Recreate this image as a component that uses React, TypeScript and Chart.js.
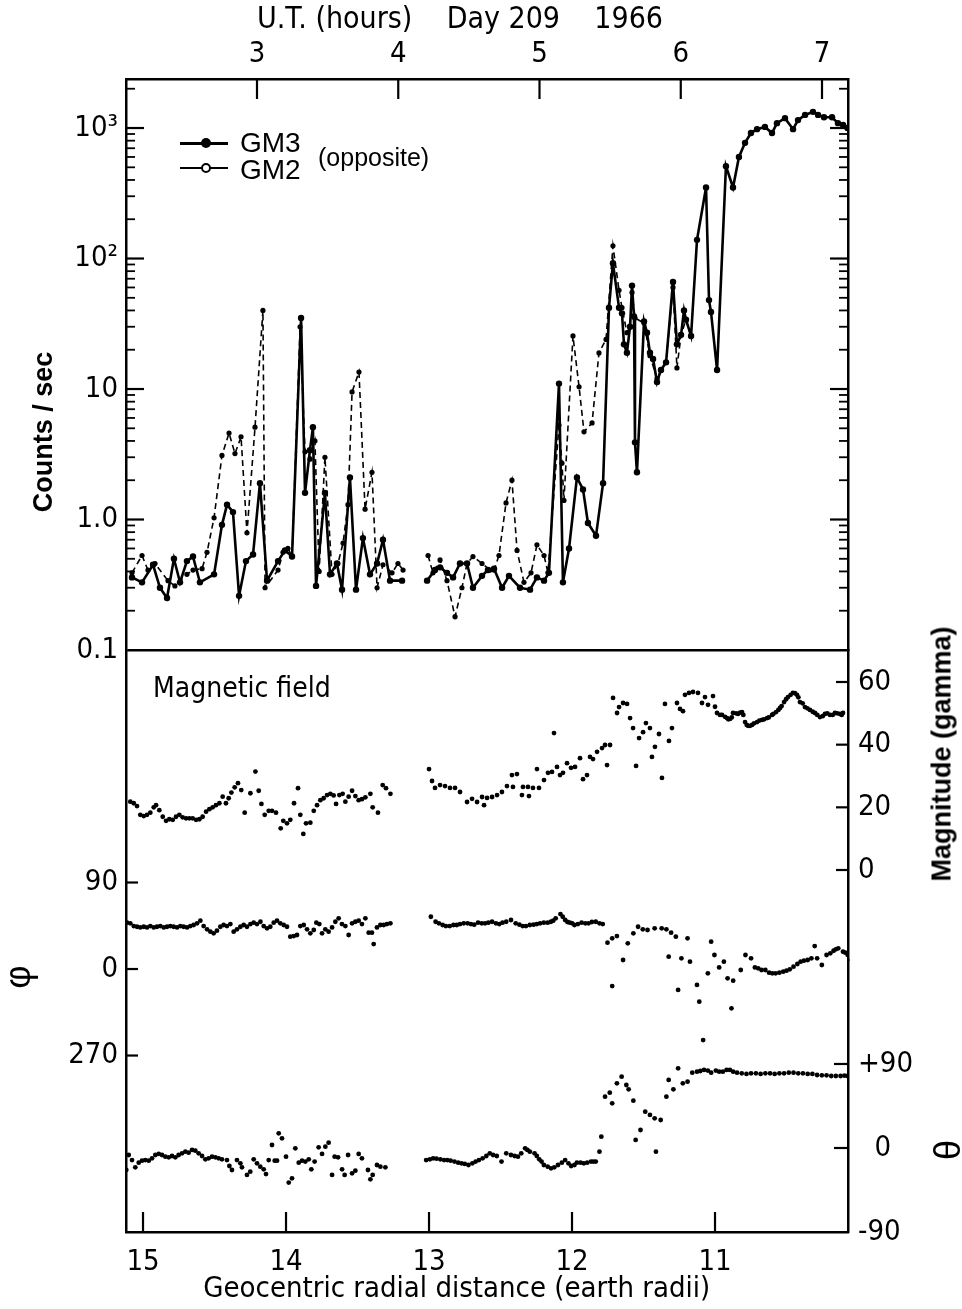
import React, { useEffect, useRef } from 'react';
import { Chart, registerables } from 'chart.js';

Chart.register(...registerables);

const NARROW = "'Liberation Sans Narrow', 'Arial Narrow', 'DejaVu Sans Condensed', 'Roboto Condensed', 'Liberation Sans', sans-serif";
const SANS = "'Liberation Sans', Arial, Helvetica, sans-serif";

// ---- axis ticks ----
const utTicks = [3, 4, 5, 6, 7];
const radiusTicks = [15, 14, 13, 12, 11];
const countTicks = [0.1, 1, 10, 100, 1000];
const countTickLabels = ['0.1', '1.0', '10', '10²', '10³'];
const minorMultipliers = [2, 3, 4, 5, 6, 7, 8, 9];
const phiTicks = [90, 0, -90];
const phiTickLabels = ['90', '0', '270'];
const magTicks = [60, 40, 20, 0];
const thetaTicks = [90, 0, -90];
const thetaTickLabels = ['+90', '\u20070', '-90'];

// ---- axis ranges ----
const utRange = [2.0726, 7.184];
const radiusRange = [10.07, 15.119];
const countRange = [0.1, 2375];
const phiRange = [-273.6, 331.9];
const magRange = [-28.72, 70.21];
const thetaRange = [-90, 201.4];

// ---- counting rates [UT hours, counts/sec] ----
const gm3 = [
  [2.115, 0.36], [2.186, 0.33], [2.264, 0.45], [2.313, 0.30], [2.363, 0.25], [2.412, 0.50], [2.455, 0.33],
  [2.504, 0.48], [2.547, 0.52], [2.596, 0.33], [2.696, 0.38], [2.752, 0.91], [2.788, 1.3], [2.830, 1.14],
  [2.873, 0.26], [2.922, 0.48], [2.972, 0.54], [3.021, 1.9], [3.071, 0.34], [3.149, 0.48], [3.198, 0.58],
  [3.248, 0.52], [3.312, 35], [3.340, 1.6], [3.375, 3.4], [3.396, 5.1], [3.418, 0.31], [3.481, 1.6],
  [3.517, 0.38], [3.566, 0.46], [3.602, 0.29], [3.658, 2.1], [3.701, 0.29], [3.750, 0.72], [3.800, 0.38],
  [3.850, 0.46], [3.892, 0.70], [3.942, 0.34], [4.027, 0.34], [4.12, null],
  [4.204, 0.34], [4.260, 0.41], [4.296, 0.43], [4.345, 0.39], [4.388, 0.36], [4.437, 0.46], [4.487, 0.46],
  [4.529, 0.30], [4.593, 0.37], [4.635, 0.41], [4.678, 0.42], [4.735, 0.30], [4.784, 0.37], [4.862, 0.30],
  [4.933, 0.29], [4.982, 0.36], [5.032, 0.34], [5.067, 0.39], [5.138, 11], [5.166, 0.33], [5.209, 0.60],
  [5.265, 2.1], [5.308, 1.7], [5.343, 0.94], [5.400, 0.75], [5.450, 1.9], [5.492, 42], [5.520, 92],
  [5.563, 42], [5.584, 38], [5.598, 22], [5.619, 19], [5.641, 30], [5.655, 62], [5.669, 36], [5.676, 3.9],
  [5.690, 2.3], [5.740, 33], [5.761, 27], [5.782, 19], [5.804, 17], [5.832, 11.3], [5.860, 14], [5.896, 16],
  [5.945, 66], [5.973, 22], [6.002, 26], [6.023, 40], [6.037, 34], [6.073, 25.5], [6.115, 139], [6.179, 350],
  [6.200, 48], [6.214, 39], [6.257, 14], [6.320, 510], [6.370, 350], [6.412, 600], [6.455, 770], [6.497, 915],
  [6.540, 980], [6.596, 1020], [6.646, 915], [6.681, 1090], [6.738, 1190], [6.795, 980], [6.830, 1150],
  [6.880, 1260], [6.936, 1330], [6.972, 1260], [7.014, 1210], [7.071, 1210], [7.113, 1090], [7.149, 1055],
  [7.180, 1000]
];

const gm2 = [
  [2.115, 0.39], [2.186, 0.53], [2.228, 0.41], [2.278, 0.46], [2.370, 0.34], [2.419, 0.31], [2.504, 0.38],
  [2.547, 0.41], [2.611, 0.42], [2.646, 0.56], [2.696, 1.03], [2.752, 3.1], [2.802, 4.6], [2.844, 3.2],
  [2.887, 4.3], [2.929, 0.79], [2.986, 5.1], [3.042, 40], [3.057, 0.30], [3.149, 0.41], [3.184, 0.56],
  [3.219, 0.60], [3.248, 0.52], [3.305, 30], [3.340, 3.3], [3.375, 2.9], [3.410, 4.0], [3.440, 0.40],
  [3.481, 3.0], [3.531, 0.38], [3.573, 0.46], [3.609, 0.66], [3.644, 1.3], [3.673, 9.5], [3.722, 13.5],
  [3.765, 1.2], [3.814, 2.3], [3.850, 0.30], [3.892, 0.45], [3.956, 0.39], [3.998, 0.46], [4.034, 0.41],
  [4.12, null],
  [4.211, 0.53], [4.246, 0.39], [4.296, 0.49], [4.345, 0.34], [4.402, 0.18], [4.451, 0.30], [4.487, 0.46],
  [4.529, 0.52], [4.593, 0.46], [4.650, 0.41], [4.678, 0.41], [4.713, 0.53], [4.763, 1.34], [4.805, 2.0],
  [4.841, 0.58], [4.890, 0.33], [4.940, 0.39], [4.982, 0.64], [5.032, 0.53], [5.060, 0.39], [5.138, 5.3],
  [5.159, 2.7], [5.173, 1.4], [5.237, 25.5], [5.280, 10.4], [5.315, 4.7], [5.372, 5.5], [5.421, 18.9],
  [5.471, 24], [5.520, 125], [5.563, 57], [5.584, 42], [5.619, 27], [5.641, 30], [5.655, 55], [5.676, 35],
  [5.740, 32], [5.782, 18], [5.832, 12], [5.860, 14], [5.896, 16], [5.945, 60], [5.973, 14.5], [6.002, 26],
  [6.037, 34], [6.073, 25.5]
];

// ---- magnetic field [radial distance, value] ----
const magnitude = [
  [15.089, 21.8], [15.065, 21.3], [15.042, 20.4], [15.019, 17.6], [14.995, 17.2], [14.972, 17.6], [14.949, 18.3],
  [14.925, 20.0], [14.909, 20.7], [14.886, 19.1], [14.862, 17.0], [14.839, 15.7], [14.816, 16.2], [14.792, 16.0],
  [14.769, 17.0], [14.746, 17.6], [14.723, 16.8], [14.699, 16.5], [14.676, 16.5], [14.653, 16.5], [14.629, 16.0],
  [14.606, 16.2], [14.583, 17.0], [14.559, 18.6], [14.536, 19.4], [14.513, 20.0], [14.490, 20.7], [14.466, 21.3],
  [14.443, 23.4], [14.420, 21.3], [14.401, 22.9], [14.382, 24.7], [14.359, 26.4], [14.336, 27.7], [14.313, 25.5],
  [14.289, 18.3], [14.249, 24.5], [14.214, 31.4], [14.191, 25.3], [14.172, 21.1], [14.149, 17.6], [14.121, 18.9],
  [14.098, 18.9], [14.070, 18.3], [14.037, 13.3], [14.019, 15.7], [13.993, 14.9], [13.970, 16.0], [13.944, 21.3],
  [13.916, 26.1], [13.900, 17.6], [13.879, 11.5], [13.860, 14.9], [13.830, 15.1], [13.806, 18.9], [13.783, 20.7],
  [13.760, 22.3], [13.737, 22.9], [13.713, 23.9], [13.690, 24.3], [13.667, 23.8], [13.650, 21.1], [13.627, 23.9],
  [13.604, 24.3], [13.585, 21.8], [13.562, 23.4], [13.538, 25.3], [13.515, 23.6], [13.492, 22.3], [13.469, 22.6],
  [13.445, 23.2], [13.410, 24.3], [13.394, 20.0], [13.357, 18.3], [13.324, 27.1], [13.301, 26.1], [13.270, 24.3],
  [13.000, 32.2], [12.979, 28.4], [12.958, 26.2], [12.923, 27.1], [12.888, 26.8], [12.853, 26.2], [12.818, 26.2],
  [12.783, 24.9], [12.734, 21.7], [12.699, 22.7], [12.664, 21.7], [12.629, 23.3], [12.615, 20.7], [12.594, 23.0],
  [12.559, 23.3], [12.524, 23.9], [12.490, 24.9], [12.455, 26.8], [12.420, 30.3], [12.413, 26.5], [12.385, 30.6],
  [12.350, 23.9], [12.343, 26.5], [12.308, 26.5], [12.301, 23.6], [12.273, 26.2], [12.245, 32.2], [12.231, 26.2],
  [12.196, 28.7], [12.168, 31.0], [12.140, 31.3], [12.126, 43.7], [12.105, 32.9], [12.084, 30.3], [12.063, 31.0],
  [12.035, 34.1], [12.007, 32.6], [11.979, 32.9], [11.944, 35.7], [11.923, 29.0], [11.895, 30.3], [11.874, 36.1],
  [11.853, 35.4], [11.825, 37.7], [11.790, 38.9], [11.769, 39.9], [11.755, 33.5], [11.734, 39.9], [11.713, 54.9],
  [11.685, 50.1], [11.671, 52.0], [11.643, 53.3], [11.615, 53.0], [11.594, 48.5], [11.573, 45.3], [11.552, 33.2],
  [11.531, 42.1], [11.503, 44.0], [11.483, 46.9], [11.455, 45.3], [11.441, 36.1], [11.420, 39.3], [11.392, 43.4],
  [11.371, 29.4], [11.350, 53.0], [11.322, 41.2], [11.301, 45.3], [11.266, 53.3], [11.245, 51.4], [11.224, 50.7],
  [11.210, 55.9], [11.182, 56.5], [11.154, 56.8], [11.119, 56.5], [11.091, 53.3], [11.070, 55.2], [11.049, 52.7],
  [11.014, 55.5], [10.986, 50.1], [10.951, 49.5], [10.916, 48.5], [10.895, 48.2], [10.874, 50.1], [10.839, 49.8],
  [10.811, 50.4], [10.790, 47.2], [10.769, 46.0], [10.741, 46.3], [10.706, 47.2], [10.671, 47.9], [10.636, 48.5],
  [10.601, 49.5], [10.573, 50.4], [10.545, 51.7], [10.517, 53.6], [10.490, 55.2], [10.455, 56.5], [10.427, 55.9],
  [10.406, 53.6], [10.371, 52.0], [10.336, 51.1], [10.301, 50.1], [10.266, 48.8], [10.231, 49.8], [10.196, 49.5],
  [10.161, 50.1], [10.126, 49.8], [10.105, 50.1],
  [11.000, 52.1], [10.965, 49.5], [10.930, 48.9], [10.907, 48.1], [10.883, 48.7], [10.853, 50.0], [10.825, 50.2],
  [10.802, 49.5], [10.778, 46.3], [10.755, 46.0], [10.727, 46.8], [10.690, 47.7], [10.657, 48.1], [10.624, 48.7],
  [10.592, 49.8], [10.557, 51.1], [10.534, 52.3], [10.503, 54.5], [10.471, 55.9], [10.441, 56.4], [10.417, 55.1],
  [10.387, 53.2], [10.354, 51.6], [10.317, 50.5], [10.285, 49.5], [10.247, 49.1], [10.215, 50.0], [10.177, 49.5],
  [10.145, 50.0], [10.114, 49.5]
];

const phi = [
  [15.112, 48.2], [15.089, 47.5], [15.065, 44.7], [15.042, 44.0], [15.019, 43.3], [14.995, 44.0], [14.972, 43.3],
  [14.949, 44.7], [14.925, 43.3], [14.902, 44.0], [14.879, 44.7], [14.855, 43.3], [14.832, 44.0], [14.809, 44.7],
  [14.786, 44.0], [14.762, 43.3], [14.739, 44.7], [14.716, 44.0], [14.692, 43.3], [14.669, 44.7], [14.646, 45.8],
  [14.622, 47.5], [14.599, 50.3], [14.576, 44.7], [14.552, 41.3], [14.529, 38.9], [14.506, 37.1], [14.483, 39.9],
  [14.459, 44.0], [14.436, 45.8], [14.413, 44.7], [14.389, 46.8], [14.366, 38.9], [14.343, 41.3], [14.319, 44.0],
  [14.296, 45.8], [14.273, 44.0], [14.249, 46.8], [14.226, 48.2], [14.203, 46.8], [14.179, 49.2], [14.156, 44.7],
  [14.133, 42.3], [14.110, 44.0], [14.086, 48.2], [14.063, 50.3], [14.040, 47.5], [14.016, 45.8], [13.993, 44.0],
  [13.970, 33.6], [13.946, 34.3], [13.923, 35.4], [13.900, 44.7], [13.876, 45.8], [13.853, 41.3], [13.830, 37.1],
  [13.806, 40.6], [13.788, 48.2], [13.767, 46.8], [13.748, 37.1], [13.725, 41.3], [13.702, 38.9], [13.678, 43.3],
  [13.655, 49.2], [13.632, 52.7], [13.609, 46.8], [13.585, 44.7], [13.562, 35.4], [13.538, 47.5], [13.515, 49.2],
  [13.492, 50.3], [13.469, 46.8], [13.445, 52.7], [13.422, 37.8], [13.399, 37.8], [13.387, 26.0], [13.364, 43.3],
  [13.340, 45.8], [13.317, 45.8], [13.294, 46.8], [13.270, 47.5],
  [12.987, 54.4], [12.954, 49.2], [12.905, 45.8], [12.855, 44.7], [12.806, 45.8], [12.757, 47.5], [12.707, 46.8],
  [12.657, 48.2], [12.608, 47.5], [12.559, 49.2], [12.509, 46.8], [12.460, 49.2], [12.427, 51.0], [12.394, 47.5],
  [12.345, 44.7], [12.295, 45.8], [12.246, 46.8], [12.197, 48.2], [12.147, 49.2], [12.114, 52.7], [12.081, 57.2],
  [12.048, 51.0], [12.015, 48.2], [11.983, 45.8], [11.933, 48.2], [11.884, 47.5], [11.834, 49.2], [11.785, 46.8],
  [11.752, 27.4], [11.719, 31.9], [11.719, -17.7], [11.686, 34.3], [11.643, 9.4], [11.610, 26.7], [11.571, 37.1],
  [11.538, 44.0], [11.505, 41.3], [11.472, 40.6], [11.422, 42.3], [11.373, 42.3], [11.340, 41.3], [11.324, 12.8],
  [11.307, 37.8], [11.274, 33.6], [11.258, -21.8], [11.235, 11.1], [11.192, 31.9], [11.175, 7.6], [11.126, -16.6],
  [11.110, -34.0], [11.083, -73.9], [11.050, -4.5], [11.027, 28.4], [11.004, 14.6], [10.971, 1.7], [10.938, 7.6],
  [10.912, -9.7], [10.885, -40.9], [10.873, -12.1], [10.820, -1.0], [10.787, 14.6], [10.748, 11.1], [10.698, 0.7],
  [10.648, -1.0], [10.599, -4.5], [10.550, -3.8], [10.500, -1.7], [10.451, 2.4], [10.401, 7.6], [10.352, 9.4],
  [10.303, 23.9], [10.286, 11.1], [10.253, 4.2], [10.220, 14.6], [10.171, 19.0], [10.138, 21.5], [10.105, 18.0],
  [10.072, 14.6],
  [12.931, 47.5], [12.882, 44.7], [12.829, 45.8], [12.783, 46.8], [12.730, 47.5], [12.684, 46.1], [12.631, 47.5],
  [12.585, 48.2], [12.532, 47.5], [12.486, 48.2], [12.368, 46.1], [12.322, 44.7], [12.269, 46.1], [12.223, 47.5],
  [12.170, 48.2], [12.131, 50.3], [12.065, 54.4], [12.032, 48.9], [11.999, 47.5], [11.959, 46.8], [11.907, 47.5],
  [11.861, 48.9], [11.808, 47.5],
  [10.721, 1.7], [10.675, -1.0], [10.622, -3.8], [10.576, -4.5], [10.523, -2.8], [10.477, -0.3], [10.424, 5.2],
  [10.378, 8.7], [10.326, 11.1], [10.194, 16.3], [10.155, 20.5], [10.089, 17.0]
];

const theta = [
  [15.117, -23.6], [15.100, -7.5], [15.077, -12.9], [15.054, -20.7], [15.030, -15.7], [15.007, -13.6], [14.984, -12.9],
  [14.960, -13.6], [14.937, -11.1], [14.914, -7.5], [14.890, -6.4], [14.867, -7.5], [14.844, -9.3], [14.820, -10.0],
  [14.797, -8.6], [14.774, -10.0], [14.751, -7.5], [14.727, -5.7], [14.704, -3.9], [14.681, -5.0], [14.657, -2.1],
  [14.634, -2.9], [14.611, -5.7], [14.587, -8.6], [14.564, -12.1], [14.541, -11.1], [14.517, -9.3], [14.494, -10.0],
  [14.471, -11.1], [14.448, -12.1], [14.413, -12.9], [14.396, -19.3], [14.378, -23.6], [14.343, -12.9], [14.319, -16.4],
  [14.308, -20.7], [14.273, -28.9], [14.250, -25.4], [14.226, -12.1], [14.203, -16.4], [14.180, -20.0], [14.156, -22.9],
  [14.140, -27.9], [14.121, -12.9], [14.098, 3.2], [14.079, -13.6], [14.063, -13.6], [14.051, 15.7], [14.028, 10.4],
  [14.000, -9.3], [13.981, -37.1], [13.958, -32.5], [13.935, -0.4], [13.911, -15.7], [13.888, -13.6], [13.865, -14.6],
  [13.841, -12.1], [13.823, -22.9], [13.800, -14.6], [13.772, 0.7], [13.748, -6.4], [13.725, 1.4], [13.702, 5.7],
  [13.678, -28.9], [13.660, -9.3], [13.636, -10.0], [13.608, -22.9], [13.590, -28.9], [13.566, -7.5], [13.538, -27.1],
  [13.515, -24.3], [13.492, -6.4], [13.469, -11.1], [13.427, -23.6], [13.410, -33.6], [13.394, -28.9], [13.364, -18.2],
  [13.340, -20.0], [13.305, -20.7],
  [13.020, -12.9], [12.971, -11.1], [12.921, -12.1], [12.872, -12.9], [12.822, -14.6], [12.773, -16.4], [12.724, -18.2],
  [12.674, -14.6], [12.625, -11.1], [12.575, -5.7], [12.526, -8.6], [12.493, -14.6], [12.460, -5.7], [12.427, -7.5],
  [12.378, -9.3], [12.328, -0.4], [12.295, -3.9], [12.262, -5.7], [12.229, -12.1], [12.197, -18.2], [12.147, -21.8],
  [12.098, -18.2], [12.048, -12.9], [12.006, -19.3], [11.966, -15.7], [11.917, -16.4], [11.867, -14.6], [11.834, -14.6],
  [11.808, -3.9], [11.795, 12.1], [11.769, 55.0], [11.736, 59.3], [11.719, 47.9], [11.686, 69.3], [11.653, 76.4],
  [11.620, 67.5], [11.604, 62.9], [11.571, 50.7], [11.555, 8.6], [11.521, 19.3], [11.488, 38.9], [11.455, 35.4],
  [11.422, 31.8], [11.413, -3.9], [11.380, 30.0], [11.340, 55.0], [11.324, 72.9], [11.291, 62.9], [11.258, 85.4],
  [11.225, 69.3], [11.192, 71.1], [11.159, 80.7], [11.126, 81.8], [11.077, 83.6], [11.027, 80.7], [10.994, 82.9],
  [10.945, 81.8], [10.896, 83.6], [10.846, 80.7], [10.780, 79.3], [10.714, 80.0], [10.648, 80.0], [10.583, 79.3],
  [10.517, 80.0], [10.451, 80.7], [10.385, 80.0], [10.319, 79.3], [10.253, 77.9], [10.187, 77.1], [10.122, 77.1],
  [10.072, 77.1],
  [11.103, 82.5], [11.050, 82.9], [10.971, 81.8], [10.919, 83.6], [10.873, 81.8], [10.813, 80.0], [10.748, 80.0],
  [10.681, 79.3], [10.615, 80.0], [10.550, 80.0], [10.484, 80.7], [10.418, 80.0], [10.352, 79.3], [10.286, 78.2],
  [10.220, 77.9], [10.155, 77.1], [10.095, 77.5],
  [12.994, -12.1], [12.948, -11.4], [12.895, -12.9], [12.849, -13.6], [12.796, -15.7], [12.750, -17.1], [12.697, -16.4],
  [12.651, -12.9], [12.599, -8.6], [12.552, -7.5], [12.401, -8.6], [12.355, -5.7], [12.312, -2.1], [12.246, -8.6],
  [12.213, -14.6], [12.170, -20.0], [12.124, -20.7], [12.071, -15.7], [12.025, -16.4], [11.983, -18.2], [11.940, -15.7],
  [11.894, -15.7], [11.850, -14.6]
];

const minorCountTicks: number[] = [];
countTicks.forEach((d) => minorMultipliers.forEach((m) => {
  if (d * m <= countRange[1]) minorCountTicks.push(d * m);
}));

const innerTickSpecs = [
  { scale: 'xUT', major: utTicks, len: 20 },
  { scale: 'xR', major: radiusTicks, len: 20 },
  { scale: 'yCounts', major: countTicks.slice(1), len: 18, minor: minorCountTicks, minorLen: 9 },
  { scale: 'yCountsR', major: countTicks.slice(1), len: 18, minor: minorCountTicks, minorLen: 9 },
  { scale: 'yPhi', major: phiTicks, len: 12 },
  { scale: 'yMag', major: magTicks, len: 12 },
  { scale: 'yTheta', major: [90, 0], len: 14 },
];

const innerTicksPlugin = {
  id: 'innerTicks',
  afterDraw(chart: any) {
    const { ctx, chartArea } = chart;
    ctx.save();
    ctx.strokeStyle = '#000';
    for (const spec of innerTickSpecs) {
      const scale = chart.scales[spec.scale];
      if (!scale) continue;
      const groups: [number[], number, number][] = [
        [spec.major, spec.len, 2.2],
        [(spec as any).minor || [], (spec as any).minorLen || 0, 1.8],
      ];
      for (const [vals, len, lw] of groups) {
        ctx.lineWidth = lw;
        for (const v of vals) {
          const p = scale.getPixelForValue(v);
          ctx.beginPath();
          if (scale.position === 'left') { ctx.moveTo(chartArea.left, p); ctx.lineTo(chartArea.left + len, p); }
          else if (scale.position === 'right') { ctx.moveTo(chartArea.right, p); ctx.lineTo(chartArea.right - len, p); }
          else if (scale.position === 'top') { ctx.moveTo(p, chartArea.top); ctx.lineTo(p, chartArea.top + len); }
          else { ctx.moveTo(p, chartArea.bottom); ctx.lineTo(p, chartArea.bottom - len); }
          ctx.stroke();
        }
      }
    }
    ctx.restore();
  },
};

const tickFont = { family: NARROW, size: 29, lineHeight: 1 };
const borderOpts = { display: true, color: '#000', width: 2.5 };
const noGrid = { drawOnChartArea: false, drawTicks: false };
const setTicks = (vals: number[]) => (scale: any) => { scale.ticks = vals.map((v) => ({ value: v })); };
const fixWidth = (w: number) => (scale: any) => { scale.width = w; };
const fixHeight = (h: number) => (scale: any) => { scale.height = h; };
const toPoints = (arr: any[]) => arr.map(([x, y]) => ({ x, y }));
const EM = '\u2003';

export default function App() {
  const canvasRef = useRef<HTMLCanvasElement | null>(null);

  useEffect(() => {
    if (!canvasRef.current) return;
    const scatterBase = {
      showLine: false,
      pointRadius: 2.4,
      pointBackgroundColor: '#000',
      pointBorderWidth: 0,
      borderColor: '#000',
      xAxisID: 'xR',
    };
    const chart = new Chart(canvasRef.current, {
      type: 'line',
      data: {
        datasets: [
          {
            label: 'GM3', data: toPoints(gm3), xAxisID: 'xUT', yAxisID: 'yCounts',
            borderColor: '#000', backgroundColor: '#000', borderWidth: 2.6,
            pointRadius: 3.2, pointBackgroundColor: '#000', pointBorderWidth: 0, tension: 0, spanGaps: false,
          },
          {
            label: 'GM2', data: toPoints(gm2), xAxisID: 'xUT', yAxisID: 'yCounts',
            borderColor: '#000', backgroundColor: '#000', borderWidth: 1.6, borderDash: [6, 4],
            pointRadius: 2.6, pointBackgroundColor: '#000', pointBorderWidth: 0, tension: 0, spanGaps: false,
          },
          { label: 'Magnitude', data: toPoints(magnitude), yAxisID: 'yMag', ...scatterBase },
          { label: 'phi', data: toPoints(phi), yAxisID: 'yPhi', ...scatterBase },
          { label: 'theta', data: toPoints(theta), yAxisID: 'yTheta', ...scatterBase },
        ] as any,
      },
      options: {
        responsive: false,
        animation: false,
        devicePixelRatio: 1,
        events: [],
        layout: { padding: 0, autoPadding: false },
        plugins: { legend: { display: false }, tooltip: { enabled: false } },
        scales: {
          xUT: {
            type: 'linear', position: 'top', min: utRange[0], max: utRange[1],
            afterBuildTicks: setTicks(utTicks), afterFit: fixHeight(79),
            ticks: { font: tickFont, color: '#000', padding: 10, maxRotation: 0, autoSkip: false, callback: (v: any) => String(v) },
            grid: noGrid, border: borderOpts,
            title: {
              display: true, text: 'U.T. (hours)    Day 209    1966' + EM + EM, color: '#000',
              font: { family: NARROW, size: 30, lineHeight: 1 }, padding: { top: 5, bottom: 0 },
            },
          },
          xR: {
            type: 'linear', position: 'bottom', min: radiusRange[0], max: radiusRange[1], reverse: true,
            afterBuildTicks: setTicks(radiusTicks), afterFit: fixHeight(77),
            ticks: { font: tickFont, color: '#000', padding: 16, maxRotation: 0, autoSkip: false, callback: (v: any) => String(v) },
            grid: noGrid, border: borderOpts,
            title: {
              display: true, text: 'Geocentric radial distance (earth radii)' + EM + EM + ' ', color: '#000',
              font: { family: NARROW, size: 29, lineHeight: 1 }, padding: { top: 0, bottom: 5 },
            },
          },
          yCounts: {
            type: 'logarithmic', position: 'left', stack: 'L', stackWeight: 571, weight: 2,
            min: countRange[0], max: countRange[1],
            afterBuildTicks: setTicks(countTicks), afterFit: fixWidth(126),
            ticks: { font: tickFont, color: '#000', padding: 8, autoSkip: false, callback: (_v: any, i: number) => countTickLabels[i] },
            grid: {
              drawOnChartArea: true, drawTicks: false, lineWidth: 2.5,
              color: (c: any) => (c.tick && c.tick.value === 0.1 ? '#000' : 'rgba(0,0,0,0)'),
            },
            border: borderOpts,
            title: {
              display: true, text: 'Counts / sec' + EM.repeat(5), color: '#000',
              font: { family: SANS, size: 27, weight: 'bold', lineHeight: 1 }, padding: { top: 31, bottom: 0 },
            },
          },
          yPhi: {
            type: 'linear', position: 'left', stack: 'L', stackWeight: 582, weight: 1,
            min: phiRange[0], max: phiRange[1],
            afterBuildTicks: setTicks(phiTicks), afterFit: fixWidth(126),
            ticks: { font: tickFont, color: '#000', padding: 8, autoSkip: false, callback: (_v: any, i: number) => phiTickLabels[i] },
            grid: noGrid, border: borderOpts,
            title: {
              display: true, text: 'φ' + EM + EM, color: '#000',
              font: { family: SANS, size: 36, lineHeight: 1 }, padding: { top: 2, bottom: 0 },
            },
          },
          yCountsR: {
            type: 'logarithmic', position: 'right', stack: 'R', stackWeight: 571, weight: 1,
            min: countRange[0], max: countRange[1], afterFit: fixWidth(114),
            ticks: { display: false }, grid: noGrid, border: borderOpts,
          },
          yMag: {
            type: 'linear', position: 'right', stack: 'R', stackWeight: 310, weight: 2,
            min: magRange[0], max: magRange[1],
            afterBuildTicks: setTicks(magTicks), afterFit: fixWidth(114),
            ticks: { font: tickFont, color: '#000', padding: 10, autoSkip: false, callback: (v: any) => String(v) },
            grid: noGrid, border: borderOpts,
          },
          yTheta: {
            type: 'linear', position: 'right', stack: 'R', stackWeight: 272, weight: 3,
            min: thetaRange[0], max: thetaRange[1],
            afterBuildTicks: setTicks(thetaTicks), afterFit: fixWidth(114),
            ticks: { font: tickFont, color: '#000', padding: 10, autoSkip: false, callback: (_v: any, i: number) => thetaTickLabels[i] },
            grid: noGrid, border: borderOpts,
            title: {
              display: true, text: EM + EM + EM + 'θ', color: '#000',
              font: { family: SANS, size: 36, lineHeight: 1 }, padding: { top: 1, bottom: 0 },
            },
          },
        } as any,
      },
      plugins: [innerTicksPlugin as any],
    });
    return () => chart.destroy();
  }, []);

  const abs = (s: React.CSSProperties): React.CSSProperties => ({ position: 'absolute', whiteSpace: 'nowrap', color: '#000', ...s });

  return (
    <div style={{ position: 'fixed', left: 0, top: 0, width: 962, height: 1309, background: '#fff', overflow: 'hidden' }}>
      <canvas ref={canvasRef} width={962} height={1309} style={{ position: 'absolute', left: 0, top: 0, width: 962, height: 1309 }} />
      {/* legend */}
      <div style={abs({ left: 180, top: 142, width: 48, height: 2.5, background: '#000' })} />
      <div style={abs({ left: 201, top: 138, width: 10, height: 10, borderRadius: '50%', background: '#000' })} />
      <div style={abs({ left: 240, top: 143, transform: 'translateY(-50%)', font: `28px ${SANS}`, lineHeight: 1 })}>GM3</div>
      <div style={abs({ left: 180, top: 167, width: 48, height: 2, background: '#000' })} />
      <div style={abs({ left: 201, top: 163, width: 6, height: 6, borderRadius: '50%', border: '2px solid #000', background: '#fff' })} />
      <div style={abs({ left: 240, top: 170, transform: 'translateY(-50%)', font: `28px ${SANS}`, lineHeight: 1 })}>GM2</div>
      <div style={abs({ left: 318, top: 157, transform: 'translateY(-50%)', font: `25px ${SANS}`, lineHeight: 1 })}>(opposite)</div>
      {/* panel label */}
      <div style={abs({ left: 153, top: 688, transform: 'translateY(-50%)', font: `28px ${NARROW}`, lineHeight: 1 })}>Magnetic field</div>
      {/* right-hand magnitude title, reading upward */}
      <div style={abs({ left: 942, top: 754, transform: 'translate(-50%, -50%) rotate(-90deg)', font: `bold 27px ${SANS}`, lineHeight: 1 })}>Magnitude (gamma)</div>
    </div>
  );
}
